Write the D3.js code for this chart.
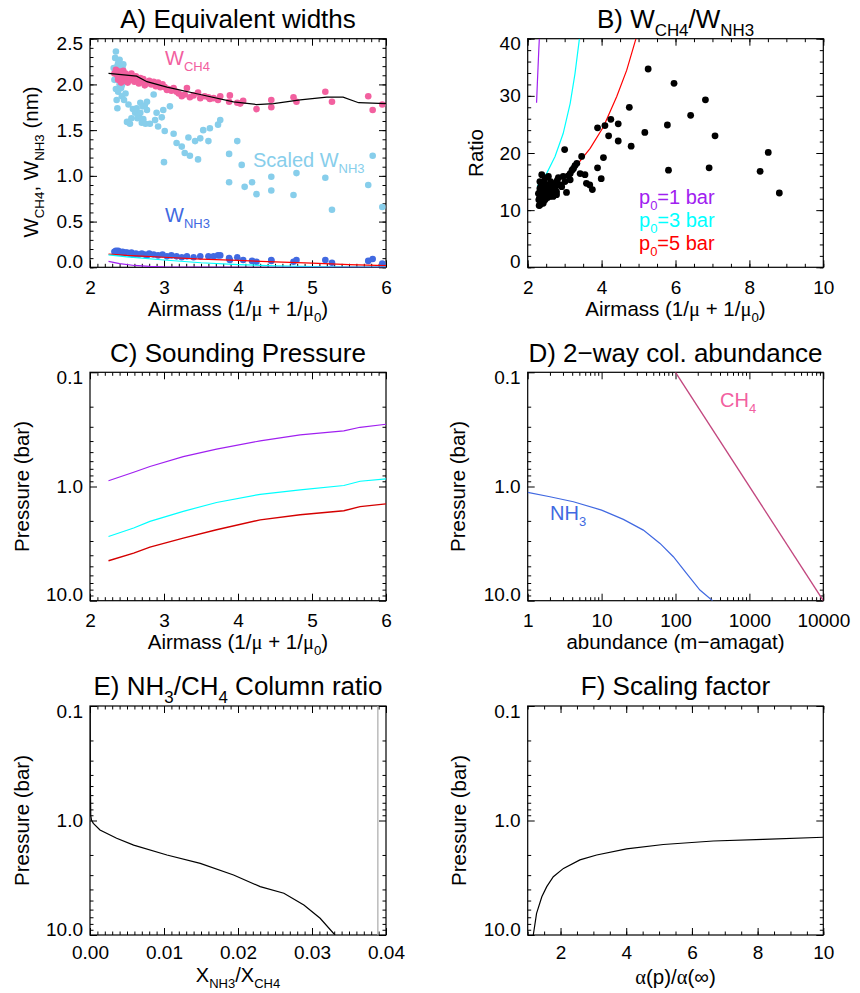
<!DOCTYPE html>
<html>
<head>
<meta charset="utf-8">
<script src="https://cdn.jsdelivr.net/npm/d3@7"></script>
<style>
body{margin:0;background:#fff}
text{font-family:"Liberation Sans",Arial,Helvetica,sans-serif}
</style>
</head>
<body>
<div id="chart"></div>
<script>
// ---- A) equivalent widths ----
var aCh4Air = [2.33,2.35,2.37,2.38,2.40,2.41,2.42,2.43,2.44,2.45,2.46,2.47,2.48,2.50,2.51,2.53,2.55,2.56,2.58,2.60,2.62,2.64,2.66,2.68,2.70,2.72,2.74,2.77,2.80,2.83,2.86,2.89,2.92,2.95,2.98,3.01,3.04,3.06,3.10,3.13,3.17,3.20,3.24,3.28,3.31,3.35,3.40,3.46,3.49,3.55,3.60,3.62,3.67,3.73,3.76,3.88,3.89,3.99,4.03,4.07,4.25,4.45,4.45,4.75,4.79,5.18,5.27,5.76,5.82,5.95];
var aCh4W   = [2.12,2.16,2.10,2.05,2.14,2.08,2.02,2.11,2.06,2.15,2.09,2.04,2.12,2.07,2.02,2.10,2.05,2.12,2.08,2.03,2.09,2.05,2.01,2.07,2.03,2.06,1.99,2.01,2.04,2.00,2.03,1.98,2.02,1.97,2.00,1.97,1.94,1.95,1.93,1.96,1.92,1.90,1.87,1.89,1.96,1.86,1.88,1.91,1.85,1.87,1.86,1.84,1.85,1.83,1.87,1.81,1.88,1.80,1.79,1.82,1.73,1.83,1.75,1.86,1.81,1.92,1.81,1.87,1.72,1.78];

var aScAir = [2.32,2.33,2.34,2.35,2.35,2.36,2.36,2.37,2.37,2.38,2.38,2.39,2.40,2.40,2.41,2.42,2.43,2.43,2.44,2.45,2.46,2.47,2.48,2.50,2.52,2.54,2.56,2.58,2.61,2.63,2.64,2.66,2.68,2.68,2.70,2.71,2.72,2.74,2.75,2.77,2.77,2.81,2.86,2.88,2.90,2.92,2.97,2.99,3.00,3.01,3.08,3.13,3.17,3.24,3.28,3.33,3.35,3.42,3.46,3.49,3.53,3.60,3.62,3.73,3.76,3.88,3.88,3.99,4.05,4.09,4.19,4.25,4.45,4.45,4.75,4.79,5.18,5.27,5.76,5.82,5.95];
var aScW   = [2.18,2.05,2.29,2.36,1.95,2.14,1.83,1.74,2.20,2.23,1.92,2.10,2.00,2.27,2.11,1.96,1.87,1.99,2.18,2.22,1.83,2.06,1.90,1.59,1.78,1.57,1.63,1.73,1.69,1.74,1.63,1.66,1.80,1.69,1.58,1.76,1.62,1.77,1.57,1.81,1.72,1.57,1.89,1.61,1.69,1.54,1.64,1.72,1.15,1.49,1.76,1.46,1.36,1.32,1.25,1.42,1.22,1.38,1.18,1.41,1.50,1.38,1.52,1.56,1.61,1.24,0.93,1.38,1.12,0.88,0.93,0.80,0.99,0.84,0.79,1.03,0.98,0.63,0.90,1.22,0.66];

var aNh3Air = [2.33,2.35,2.37,2.38,2.40,2.42,2.44,2.46,2.48,2.50,2.53,2.56,2.58,2.62,2.66,2.70,2.74,2.77,2.80,2.86,2.92,2.98,3.04,3.10,3.17,3.24,3.31,3.40,3.49,3.60,3.67,3.73,3.76,3.88,3.89,3.99,4.07,4.19,4.25,4.45,4.45,4.75,4.79,5.18,5.27,5.76,5.82,5.95];
var aNh3W   = [0.17,0.18,0.16,0.18,0.17,0.16,0.17,0.15,0.16,0.16,0.15,0.16,0.14,0.15,0.14,0.15,0.14,0.13,0.15,0.14,0.13,0.14,0.12,0.13,0.12,0.11,0.12,0.11,0.12,0.12,0.12,0.13,0.13,0.10,0.08,0.11,0.08,0.07,0.06,0.08,0.07,0.06,0.08,0.08,0.05,0.07,0.09,0.04];

var aFitAir = [2.25,2.63,2.77,3.04,3.49,3.94,4.25,4.48,4.84,5.20,5.42,5.63,6.0];
var aFitW   = [2.12,2.09,2.03,1.97,1.89,1.81,1.78,1.79,1.83,1.86,1.86,1.80,1.79];

var aModAir  = [2.25,2.5,3.0,3.5,4.0,4.5,5.0,5.5,6.0];
var aMod5    = [0.145,0.13,0.11,0.09,0.075,0.06,0.045,0.03,0.018];
var aMod3    = [0.135,0.115,0.08,0.05,0.03,0.015,0.007,0.003,0.001];
var aMod1Air = [2.25,2.4,2.6,2.8,3.0,3.5,6.0];
var aMod1    = [0.065,0.04,0.02,0.01,0.004,0.001,0.0];

// ---- B) ratio ----
var bObsAir   = [2.29,2.30,2.31,2.32,2.33,2.33,2.33,2.33,2.34,2.35,2.36,2.37,2.38,2.38,2.40,2.41,2.42,2.42,2.44,2.45,2.47,2.47,2.49,2.51,2.51,2.51,2.54,2.56,2.58,2.60,2.60,2.62,2.65,2.69,2.72,2.74,2.74,2.78,2.78,2.80,2.83,2.87,2.92,2.96,3.00,3.01,3.05,3.10,3.15,3.15,3.20,3.24,3.28,3.33,3.42,3.46,3.55,3.59,3.68,3.75,3.89,3.89,3.99,4.05,4.09,4.19,4.25,4.45,4.45,4.75,4.80,5.17,5.26,5.78,5.81,5.96,6.41,6.81,6.91,7.07,8.29,8.51,8.81];
var bObsRatio = [12.9,11.8,10.8,12.1,10.9,13.2,13.8,15.0,11.5,12.6,14.3,11.2,16.2,12.0,13.0,12.4,11.2,13.5,14.8,12.8,11.8,15.6,13.9,12.9,13.5,14.4,12.2,15.9,13.0,14.1,12.4,15.0,13.4,12.4,14.2,14.7,13.8,13.2,12.7,15.2,15.7,14.4,14.1,15.9,20.6,15.0,13.1,16.0,15.3,16.4,17.0,17.3,17.8,18.2,16.4,19.4,16.2,14.7,14.4,13.6,17.4,24.4,15.5,19.2,24.8,23.0,25.9,25.1,22.1,28.0,21.2,23.6,34.7,24.9,17.0,32.2,26.6,29.3,17.4,23.0,16.8,20.1,13.0];

var bAir1 = [2.24,2.26,2.28,2.30,2.315];
var bRat1 = [28.8,32,35,38,40];
var bAir3 = [2.26,2.51,2.74,2.96,3.15,3.28,3.40];
var bRat3 = [14.2,16.4,19.4,23.4,28.7,33.9,40];
var bAir5 = [2.26,2.78,3.33,3.69,4.05,4.41,4.68,4.93];
var bRat5 = [13.2,14.8,17.9,20.8,24.6,29.9,34.5,40];

// ---- C) sounding pressure ----
var cAir = [2.25,2.59,2.81,3.26,3.71,4.30,4.84,5.43,5.65,6.0];
var cP1  = [0.89,0.75,0.668,0.547,0.471,0.398,0.353,0.326,0.303,0.285];
var cP3  = [2.74,2.31,2.02,1.65,1.38,1.17,1.07,0.98,0.90,0.857];
var cP5  = [4.47,3.83,3.40,2.83,2.39,1.96,1.77,1.63,1.50,1.42];

// ---- D) column abundance ----
var dCh4Ab = [100,10000];
var dCh4P  = [0.1,10];
var dNh3Ab = [1,2,4.15,10,19.7,36.7,61.7,93.5,141,214,317];
var dNh3P  = [1.125,1.23,1.36,1.61,1.94,2.41,3.15,4.12,5.77,8.07,10];

// ---- E) column ratio ----
var eRatio = [0.00002,0.00005,0.0001,0.0002,0.00045,0.00135,0.0036,0.0059,0.0104,0.0149,0.0194,0.023,0.0262,0.0289,0.0311,0.0331];
var eP     = [0.1,0.5,0.9,0.99,1.06,1.21,1.43,1.64,2.0,2.37,2.99,3.78,4.32,5.47,7.14,10];
var eLimit = 0.0389;

// ---- F) scaling factor ----
var fScale = [1.17,1.27,1.43,1.58,1.78,2.09,2.59,3.10,4.01,5.13,6.65,8.17,10];
var fP     = [10,6.47,4.63,3.78,3.10,2.62,2.21,2.0,1.77,1.62,1.51,1.46,1.40];

var pTicks = [0.1,1,10];
var pMinor = [0.2,0.3,0.4,0.5,0.6,0.7,0.8,0.9,2,3,4,5,6,7,8,9];

var PINK = "#f2609f", SKY = "#87ceeb", BLUE = "#4169e1", PURPLE = "#a020f0", CYAN = "#00ffff", RED = "#ff0000";
var SERIF = "'Liberation Serif','Times New Roman',serif";

var svg = d3.select("#chart").append("svg")
    .attr("width",860)
    .attr("height",993)
    .style("background","#fff");

// text with subscripts / greek letters
function rich(sel, parts, fs){
    var shift = 0;
    parts.forEach(function(p){
        var kind = p[1] || "";
        var sub = kind.indexOf("s") >= 0;
        var target = sub ? fs*0.3 : 0;
        var t = sel.append("tspan").text(p[0]).attr("dy", target - shift);
        shift = target;
        if (sub) t.attr("font-size", fs*0.65);
        if (kind.indexOf("g") >= 0) t.attr("font-family", SERIF);
    });
    return sel;
}

function label(x, y, parts, fs, opt){
    opt = opt || {};
    var t = svg.append("text")
        .attr("x",x).attr("y",y)
        .attr("font-size",fs)
        .attr("fill",opt.fill || "#000")
        .attr("text-anchor",opt.anchor || "middle");
    if (opt.rotate) t.attr("x",0).attr("y",0).attr("transform","translate("+x+","+y+") rotate(-90)");
    return rich(t, parts, fs);
}

function addAxis(fn, scale, ticks, size, fmt, tx, ty, pad){
    var a = fn(scale).tickValues(ticks).tickSizeInner(-size).tickSizeOuter(0).tickPadding(pad || 0)
        .tickFormat(fmt || function(){ return ""; });
    var g = svg.append("g").attr("transform","translate("+tx+","+ty+")").call(a);
    g.select(".domain").remove();
    g.selectAll("line").attr("stroke","#000").attr("stroke-width",1);
    g.attr("font-size",19).attr("font-family",null);
    return g;
}

// frame with inward ticks on all four sides, labels bottom and left
function frame(xs, ys, o){
    var L = d3.min(xs.range()), R = d3.max(xs.range());
    var T = d3.min(ys.range()), B = d3.max(ys.range());
    addAxis(d3.axisBottom, xs, o.xMajor, 7, o.xFmt, 0, B, o.xPad || 13);
    addAxis(d3.axisBottom, xs, o.xMinor, 3.5, null, 0, B);
    addAxis(d3.axisTop, xs, o.xMajor, 7, null, 0, T);
    addAxis(d3.axisTop, xs, o.xMinor, 3.5, null, 0, T);
    var gl = addAxis(d3.axisLeft, ys, o.yMajor, 7, o.yFmt, L, 0, 7);
    addAxis(d3.axisLeft, ys, o.yMinor, 3.5, null, L, 0);
    addAxis(d3.axisRight, ys, o.yMajor, 7, null, R, 0);
    addAxis(d3.axisRight, ys, o.yMinor, 3.5, null, R, 0);
    // keep end labels inside the frame height
    gl.selectAll(".tick").each(function(d){
        var p = ys(d);
        var c = Math.max(T + 5, Math.min(B - 6, p));
        d3.select(this).select("text").attr("y", c - p);
    });
    svg.append("rect").attr("x",L).attr("y",T).attr("width",R-L).attr("height",B-T)
        .attr("fill","none").attr("stroke","#000").attr("stroke-width",1.2);
    var id = "clip" + Math.round(L) + "_" + Math.round(T);
    svg.append("clipPath").attr("id",id).append("rect")
        .attr("x",L).attr("y",T).attr("width",R-L).attr("height",B-T);
    return svg.append("g").attr("clip-path","url(#"+id+")");
}

function line(g, xs, ys, xv, yv, color, w){
    var pts = xv.map(function(x,i){ return [x, yv[i]]; });
    g.append("path").datum(pts)
        .attr("fill","none").attr("stroke",color).attr("stroke-width",w || 1.2)
        .attr("d", d3.line().x(function(d){ return xs(d[0]); }).y(function(d){ return ys(d[1]); }));
}

function dots(g, xs, ys, xv, yv, color, r){
    g.selectAll(null).data(xv.map(function(x,i){ return [x, yv[i]]; })).enter()
        .append("circle")
        .attr("cx",function(d){ return xs(d[0]); })
        .attr("cy",function(d){ return ys(d[1]); })
        .attr("r",r).attr("fill",color);
}

var fmt1 = d3.format(".1f");
var airMajor = d3.range(2,6.01,1), airMinor = d3.range(2,6.001,0.1);
var airTitle = [["Airmass (1/"],["μ","g"],[" + 1/"],["μ","g"],["0","s"],[")"]];

// ---------- A ----------
var xA = d3.scaleLinear().domain([2,6]).range([90,386]);
var yA = d3.scaleLinear().domain([0,2.5]).range([267.3,38.7]);
var gA = frame(xA, yA, {xMajor:airMajor, xMinor:airMinor, xFmt:d3.format("d"),
    yMajor:d3.range(0,2.51,0.5), yMinor:d3.range(0,2.501,0.1), yFmt:fmt1});
dots(gA, xA, yA, aScAir, aScW, SKY, 3.3);
dots(gA, xA, yA, aCh4Air, aCh4W, PINK, 3.3);
line(gA, xA, yA, aFitAir, aFitW, "#000", 1.2);
dots(gA, xA, yA, aNh3Air, aNh3W, BLUE, 3.3);
line(gA, xA, yA, aModAir, aMod5, RED, 1.2);
line(gA, xA, yA, aModAir, aMod3, CYAN, 1.2);
line(gA, xA, yA, aMod1Air, aMod1, PURPLE, 1.2);
label(238, 28, [["A) Equivalent widths"]], 26);
label(238, 316, airTitle, 20.5);
label(38, 162, [["W"],["CH4","s"],[", W"],["NH3","s"],[" (nm)"]], 20.5, {rotate:true});
label(165, 65, [["W"],["CH4","s"]], 20, {fill:PINK, anchor:"start"});
label(253, 167, [["Scaled W"],["NH3","s"]], 20, {fill:SKY, anchor:"start"});
label(165, 222, [["W"],["NH3","s"]], 20, {fill:BLUE, anchor:"start"});

// ---------- B ----------
var xB = d3.scaleLinear().domain([2,10]).range([527.7,823.3]);
var yB = d3.scaleLinear().domain([0,40]).range([267.3,38.7]);
var gB = frame(xB, yB, {xMajor:d3.range(2,10.01,2), xMinor:d3.range(2,10.01,0.5), xFmt:d3.format("d"),
    yMajor:d3.range(0,40.1,10), yMinor:d3.range(0,40.1,2), yFmt:d3.format("d")});
line(gB, xB, yB, bAir1, bRat1, PURPLE, 1.2);
line(gB, xB, yB, bAir3, bRat3, CYAN, 1.2);
line(gB, xB, yB, bAir5, bRat5, RED, 1.2);
dots(gB, xB, yB, bObsAir, bObsRatio, "#000", 3.4);
label(675.5, 28, [["B) W"],["CH4","s"],["/W"],["NH3","s"]], 26);
label(675.5, 316, airTitle, 20.5);
label(483, 153, [["Ratio"]], 20.5, {rotate:true});
label(639, 204, [["p"],["0","s"],["=1 bar"]], 20, {fill:PURPLE, anchor:"start"});
label(639, 227, [["p"],["0","s"],["=3 bar"]], 20, {fill:CYAN, anchor:"start"});
label(639, 250, [["p"],["0","s"],["=5 bar"]], 20, {fill:RED, anchor:"start"});

// ---------- C ----------
var xC = d3.scaleLinear().domain([2,6]).range([90,386]);
var yC = d3.scaleLog().domain([0.1,10]).range([372.3,600.7]);
var gC = frame(xC, yC, {xMajor:airMajor, xMinor:airMinor, xFmt:d3.format("d"),
    yMajor:pTicks, yMinor:pMinor, yFmt:fmt1});
line(gC, xC, yC, cAir, cP1, PURPLE, 1.2);
line(gC, xC, yC, cAir, cP3, CYAN, 1.2);
line(gC, xC, yC, cAir, cP5, "#d40000", 1.4);
label(238, 362, [["C) Sounding Pressure"]], 26);
label(238, 649, airTitle, 20.5);
label(28.5, 486.5, [["Pressure (bar)"]], 20.5, {rotate:true});

// ---------- D ----------
var xD = d3.scaleLog().domain([1,10000]).range([527.7,823.3]);
var yD = d3.scaleLog().domain([0.1,10]).range([372.3,600.7]);
var abMinor = [];
[1,10,100,1000].forEach(function(e){ d3.range(2,10).forEach(function(k){ abMinor.push(k*e); }); });
var gD = frame(xD, yD, {xMajor:[1,10,100,1000,10000], xMinor:abMinor, xFmt:d3.format("d"),
    yMajor:pTicks, yMinor:pMinor, yFmt:fmt1});
line(gD, xD, yD, dCh4Ab, dCh4P, "#c2467e", 1.3);
line(gD, xD, yD, dNh3Ab, dNh3P, BLUE, 1.2);
label(675.5, 362, [["D) 2−way col. abundance"]], 26);
label(675.5, 649, [["abundance (m−amagat)"]], 20.5);
label(465, 486.5, [["Pressure (bar)"]], 20.5, {rotate:true});
label(720, 407, [["CH"],["4","s"]], 20, {fill:PINK, anchor:"start"});
label(550, 520, [["NH"],["3","s"]], 20, {fill:BLUE, anchor:"start"});

// ---------- E ----------
var xE = d3.scaleLinear().domain([0,0.04]).range([90,386]);
var yE = d3.scaleLog().domain([0.1,10]).range([706,935]);
var gE = frame(xE, yE, {xMajor:d3.range(0,0.0401,0.01), xMinor:d3.range(0,0.04001,0.001), xFmt:d3.format(".2f"), xPad:11,
    yMajor:pTicks, yMinor:pMinor, yFmt:fmt1});
line(gE, xE, yE, [eLimit,eLimit], [0.1,10], "#aaaaaa", 1.2);
line(gE, xE, yE, eRatio, eP, "#000", 1.2);
label(238, 695, [["E) NH"],["3","s"],["/CH"],["4","s"],[" Column ratio"]], 26);
label(238, 982, [["X"],["NH3","s"],["/X"],["CH4","s"]], 20);
label(28.5, 820.5, [["Pressure (bar)"]], 20.5, {rotate:true});

// ---------- F ----------
var xF = d3.scaleLinear().domain([1,10]).range([527.7,823.3]);
var yF = d3.scaleLog().domain([0.1,10]).range([706,935]);
var gF = frame(xF, yF, {xMajor:d3.range(2,10.01,2), xMinor:d3.range(1,10.01,0.5), xFmt:d3.format("d"), xPad:11,
    yMajor:pTicks, yMinor:pMinor, yFmt:fmt1});
line(gF, xF, yF, fScale, fP, "#000", 1.2);
label(675.5, 695, [["F) Scaling factor"]], 26);
label(675.5, 984, [["α","g"],["(p)/"],["α","g"],["(∞)"]], 20.5);
label(466, 820.5, [["Pressure (bar)"]], 20.5, {rotate:true});
</script>
</body>
</html>
